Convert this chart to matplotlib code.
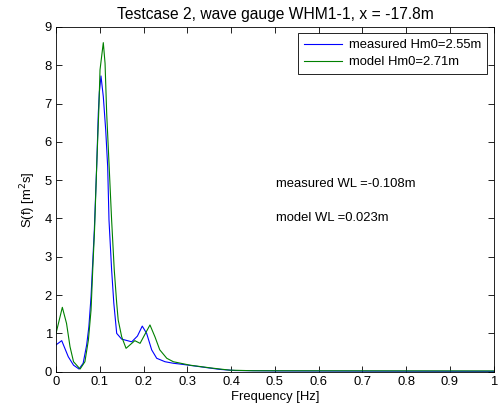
import matplotlib.pyplot as plt

plt.rcParams['font.family'] = ['Liberation Sans', 'DejaVu Sans']
plt.rcParams['font.size'] = 9.4

# Spectra (frequency in Hz, S(f) in m^2 s)
freq_measured = [0.0, 0.013, 0.028, 0.040, 0.0525, 0.062, 0.070, 0.075, 0.080, 0.083,
                 0.0875, 0.093, 0.0966, 0.099, 0.1027, 0.108, 0.1135, 0.118, 0.121, 0.127,
                 0.132, 0.1386, 0.150, 0.173, 0.186, 0.197, 0.207, 0.2185, 0.230, 0.249,
                 0.268, 0.283, 0.329, 0.374, 0.409, 0.5, 0.7, 1.0]
s_measured = [0.70, 0.81, 0.39, 0.17, 0.07, 0.22, 0.70, 1.17, 1.96, 2.66,
              3.70, 5.40, 6.75, 7.30, 7.72, 7.18, 6.31, 5.35, 3.96, 2.66,
              1.79, 1.00, 0.85, 0.78, 0.93, 1.19, 1.00, 0.57, 0.35, 0.26,
              0.22, 0.20, 0.13, 0.06, 0.03, 0.02, 0.015, 0.01]

freq_model = [0.0, 0.0144, 0.024, 0.032, 0.040, 0.055, 0.066, 0.074, 0.080, 0.084,
              0.088, 0.093, 0.098, 0.1005, 0.108, 0.112, 0.1157, 0.121, 0.127, 0.133,
              0.1386, 0.142, 0.150, 0.160, 0.180, 0.192, 0.2146, 0.226, 0.237, 0.253,
              0.268, 0.306, 0.352, 0.397, 0.45, 1.0]
s_model = [1.00, 1.68, 1.26, 0.65, 0.26, 0.07, 0.26, 0.83, 1.61, 2.70,
           3.70, 5.40, 6.92, 7.88, 8.59, 8.05, 6.75, 5.45, 3.96, 2.66,
           1.79, 1.35, 0.91, 0.61, 0.81, 0.74, 1.22, 0.91, 0.57, 0.35,
           0.26, 0.17, 0.10, 0.04, 0.025, 0.02]

hm0_measured = 2.55
hm0_model = 2.71
wl_measured = -0.108
wl_model = 0.023

fig = plt.figure(figsize=(4.98, 4.08), dpi=100)
ax = fig.add_axes([0.1125, 0.089, 0.879, 0.845])

ax.plot(freq_measured, s_measured, color='#0000ff', linewidth=0.8,
        label=f"measured Hm0={hm0_measured:.2f}m")
ax.plot(freq_model, s_model, color='#008000', linewidth=0.8,
        label=f"model Hm0={hm0_model:.2f}m")

ax.text(0.502, 4.9, f"measured WL ={wl_measured:.3f}m", va='center', ha='left')
ax.text(0.502, 4.0, f"model WL ={wl_model:.3f}m", va='center', ha='left')

ax.set_xlim(0, 1)
ax.set_ylim(0, 9)
ax.set_xticks([0, 0.1, 0.2, 0.3, 0.4, 0.5, 0.6, 0.7, 0.8, 0.9, 1])
ax.set_xticklabels(['0', '0.1', '0.2', '0.3', '0.4', '0.5', '0.6', '0.7', '0.8', '0.9', '1'])
ax.set_yticks(range(10))
ax.tick_params(direction='in', length=4, width=0.6, top=True, right=True, pad=3)
for sp in ax.spines.values():
    sp.set_linewidth(0.6)

ax.set_xlabel("Frequency [Hz]", labelpad=2)
ax.set_ylabel("S(f) [m$^2$s]", labelpad=5)
ax.set_title("Testcase 2, wave gauge WHM1-1, x = -17.8m", pad=6)

leg = ax.legend(loc='upper right', fancybox=False, framealpha=1, edgecolor='black',
                handlelength=2.9, handletextpad=0.55, borderaxespad=0.5,
                borderpad=0.45, labelspacing=0.35)
leg.get_frame().set_linewidth(0.6)

fig.savefig("out.png", dpi=100)
